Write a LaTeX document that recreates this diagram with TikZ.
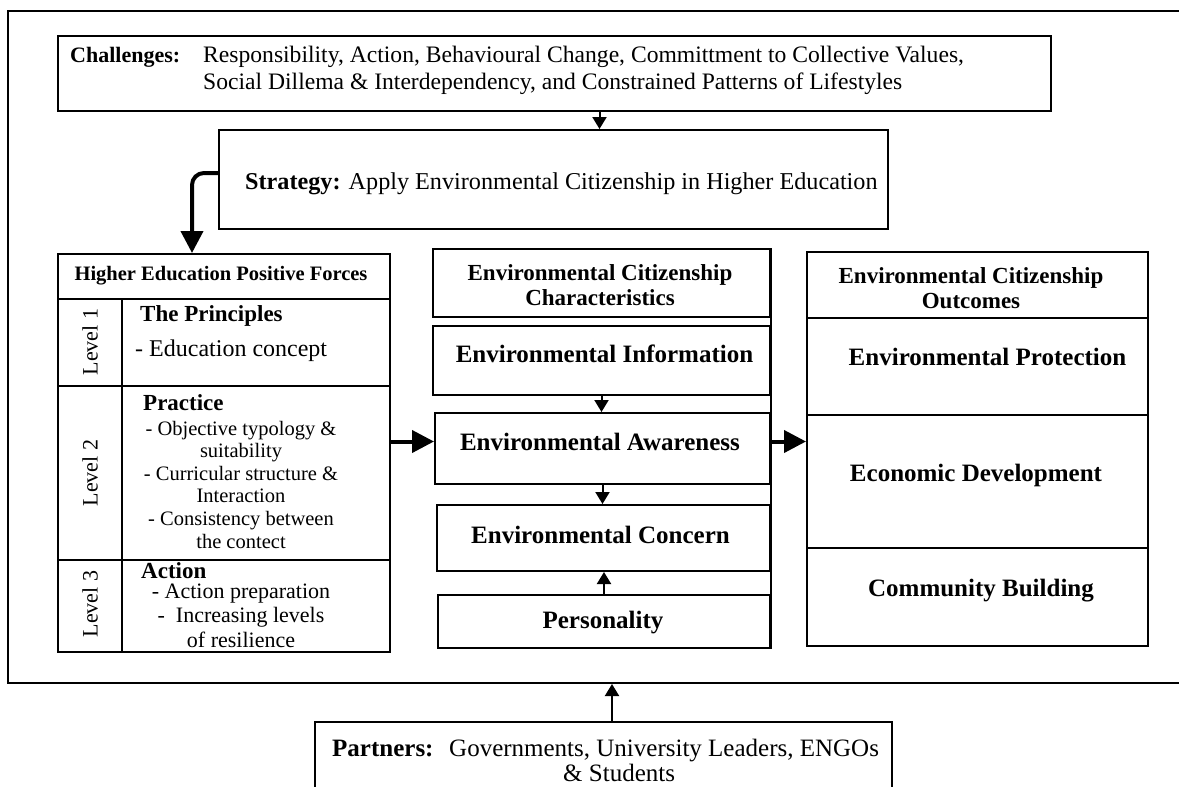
\documentclass[tikz,border=0pt]{standalone}
\usepackage{fontspec}
\setmainfont{Liberation Serif}
\usetikzlibrary{arrows.meta}
\newcommand{\stack}[2][c]{\begin{tabular}[t]{@{}#1@{}}#2\end{tabular}}
\newcommand{\fs}[2]{\fontsize{#1}{#2}\selectfont}

\begin{document}
\begin{tikzpicture}[x=1pt,y=-1pt,
    box/.style={draw,line width=2pt,inner sep=0pt},
    rule/.style={line width=2pt},
    small arr/.style={-{Triangle[width=14pt,length=12pt]},line width=2pt},
    big arr/.style={-{Triangle[width=22pt,length=22pt]},line width=4pt},
    txt/.style={inner sep=0pt,anchor=base}]
\useasboundingbox (0,0) rectangle (1179,787);
% boxes
\node[box,minimum width=1192pt,minimum height=672pt] (frame) at (604,347) {};
\node[box,minimum width=993pt,minimum height=75pt] (chal) at (554.5,73.5) {};
\node[box,minimum width=669pt,minimum height=99pt] (strat) at (553.5,179.5) {};
\node[box,minimum width=332pt,minimum height=398pt] (hepf) at (224,453) {};
\node[box,minimum width=337pt,minimum height=68pt] (ecc) at (601.5,283) {};
\node[box,minimum width=337pt,minimum height=69pt] (info) at (601.5,360.5) {};
\node[box,minimum width=335pt,minimum height=71pt] (aware) at (602.5,448.5) {};
\node[box,minimum width=333pt,minimum height=66pt] (concern) at (603.5,538) {};
\node[box,minimum width=332pt,minimum height=53pt] (person) at (604,621.5) {};
\node[box,minimum width=341pt,minimum height=394pt] (eco) at (977.5,449) {};
\node[box,minimum width=577pt,minimum height=78pt] (partners) at (603.5,761) {};
% inner rules
\foreach \y in {299,386,560} \draw[rule] (58,\y) -- (390,\y);
\draw[rule] (122,299) -- (122,652);
\foreach \y in {318,415,548} \draw[rule] (807,\y) -- (1148,\y);
\draw[rule] (ecc.north east) -- (person.south east);
% texts
\node[txt,anchor=base west,font=\bfseries\fs{22}{28}] (chalhd) at (70,62) {Challenges:};
\node[txt,anchor=base west,font=\fs{23.6}{28}] (chaltx) at (203,62) {\stack[l]{Responsibility, Action, Behavioural Change, Committment to Collective Values,\\Social Dillema \& Interdependency, and Constrained Patterns of Lifestyles}};
\node[txt,anchor=base west,font=\fs{24.2}{28}] (strattx) at (245,189) {\textbf{Strategy:} Apply Environmental Citizenship in Higher Education};
\node[txt,font=\bfseries\fs{20.5}{24}] (hepfhd) at (221,280) {Higher Education Positive Forces};
\foreach \y/\n in {342/1,473/2,604/3}
  \node[inner sep=0pt,rotate=90,font=\fs{22}{24}] (lv\n) at (90,\y) {Level \n};
\node[txt,anchor=base west,font=\bfseries\fs{23}{26}] (prin) at (140,321) {The Principles};
\node[txt,anchor=base west,font=\fs{24}{26}] (princ) at (135,356) {- Education concept};
\node[txt,anchor=base west,font=\bfseries\fs{23}{26}] (prac) at (143,410) {Practice};
\node[txt,font=\fs{20.5}{22.6}] (pracl) at (241,435) {\stack{- Objective typology \&\\suitability\\- Curricular structure \&\\Interaction\\- Consistency between\\the contect}};
\node[txt,anchor=base west,font=\bfseries\fs{23}{26}] (act) at (141,578) {Action};
\node[txt,font=\fs{22}{24.5}] (actl) at (241,598) {\stack{- Action preparation\\- \ Increasing levels\\of resilience}};
\node[txt,font=\bfseries\fs{23}{25}] (ecctx) at (600,280) {\stack{Environmental Citizenship\\Characteristics}};
\node[txt,font=\bfseries\fs{25}{28}] (infotx) at (604.5,362) {Environmental Information};
\node[txt,font=\bfseries\fs{25}{28}] (awaretx) at (600,450) {Environmental Awareness};
\node[txt,font=\bfseries\fs{25}{28}] (concerntx) at (600.5,543) {Environmental Concern};
\node[txt,font=\bfseries\fs{25}{28}] (persontx) at (603,628) {Personality};
\node[txt,font=\bfseries\fs{23}{25}] (ecotx) at (971,283) {\stack{Environmental Citizenship\\Outcomes}};
\node[txt,font=\bfseries\fs{25}{28}] (prot) at (987.5,365) {Environmental Protection};
\node[txt,font=\bfseries\fs{25}{28}] (econ) at (976,481) {Economic Development};
\node[txt,font=\bfseries\fs{25}{28}] (comm) at (981,596) {Community Building};
\node[txt,anchor=base west,font=\bfseries\fs{25}{28}] (parthd) at (332,756) {Partners:};
\node[txt,anchor=base west,font=\fs{25}{28}] (parttx) at (449,756) {Governments, University Leaders, ENGOs};
\node[txt,anchor=base west,font=\fs{25}{28}] (parttx2) at (563,781) {\& Students};
% arrows
\coordinate (c1) at ([xshift=45pt]chal.south);
\draw[small arr] (c1) -- (c1 |- strat.north);
\draw[big arr,rounded corners=12pt] ([yshift=6.5pt]strat.west) -| ([xshift=-32pt]hepf.north);
\coordinate (mid) at ([yshift=7pt]aware.west);
\draw[big arr] (hepf.east |- mid) -- (mid);
\draw[big arr] (mid -| aware.east) -- (mid -| eco.west);
\draw[small arr] (info.south) -- (info.south |- aware.north);
\draw[small arr] (aware.south) -- (aware.south |- concern.north);
\draw[small arr] (person.north) -- (person.north |- concern.south);
\coordinate (c2) at ([xshift=8.5pt]partners.north);
\draw[small arr] (c2) -- (c2 |- frame.south);
\end{tikzpicture}
\end{document}
